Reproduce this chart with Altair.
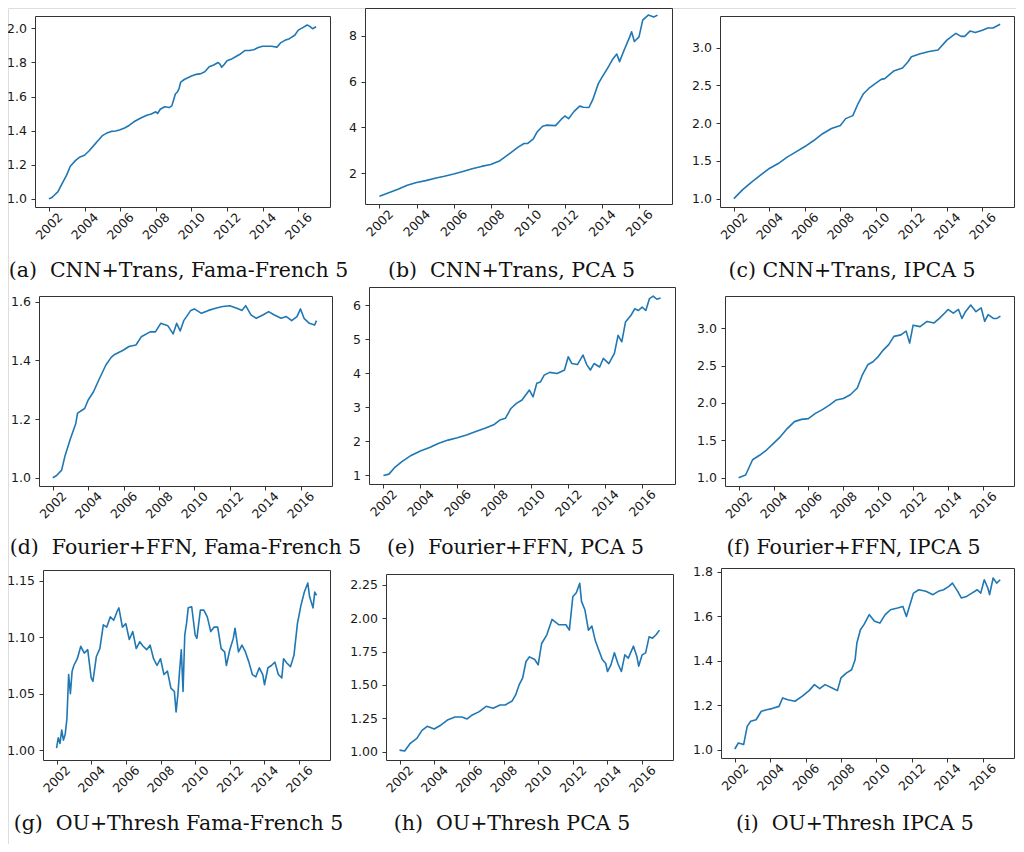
import altair as alt
import pandas as pd

# ---------------- data (decimal year, cumulative value) ----------------
a_pts = [(2002.00,1.000),(2002.15,1.005),(2002.30,1.020),(2002.50,1.040),(2002.75,1.090),(2003.00,1.140),
         (2003.20,1.190),(2003.50,1.225),(2003.75,1.245),(2004.00,1.255),(2004.25,1.280),(2004.50,1.310),
         (2004.75,1.340),(2005.00,1.370),(2005.25,1.385),(2005.50,1.395),(2005.75,1.397),(2006.00,1.405),
         (2006.25,1.415),(2006.50,1.430),(2006.75,1.450),(2007.00,1.465),(2007.25,1.478),(2007.50,1.490),
         (2007.75,1.497),(2008.00,1.510),(2008.10,1.500),(2008.25,1.525),(2008.50,1.540),(2008.75,1.535),
         (2008.90,1.545),(2009.00,1.580),(2009.10,1.615),(2009.20,1.625),(2009.30,1.645),(2009.40,1.685),
         (2009.60,1.700),(2010.00,1.720),(2010.25,1.730),(2010.50,1.733),(2010.75,1.745),(2011.00,1.775),
         (2011.25,1.785),(2011.50,1.800),(2011.60,1.790),(2011.70,1.772),(2011.85,1.790),(2012.00,1.810),
         (2012.25,1.820),(2012.50,1.835),(2012.75,1.850),(2013.00,1.870),(2013.25,1.870),(2013.50,1.875),
         (2013.75,1.888),(2014.00,1.895),(2014.25,1.895),(2014.50,1.895),(2014.80,1.890),(2015.00,1.915),
         (2015.25,1.930),(2015.50,1.940),(2015.80,1.960),(2016.00,1.990),(2016.25,2.005),(2016.50,2.020),
         (2016.65,2.012),(2016.80,1.998),(2017.00,2.010)]

b_pts = [(2002.0,1.00),(2002.5,1.15),(2003.0,1.30),(2003.5,1.48),(2004.0,1.60),(2004.5,1.68),(2005.0,1.78),
         (2005.5,1.87),(2006.0,1.97),(2006.5,2.08),(2007.0,2.20),(2007.5,2.30),(2008.0,2.38),(2008.5,2.55),
         (2009.0,2.85),(2009.5,3.15),(2009.8,3.30),(2010.0,3.30),(2010.3,3.50),(2010.5,3.80),(2010.8,4.05),
         (2011.0,4.10),(2011.5,4.08),(2011.8,4.35),(2012.0,4.50),(2012.2,4.38),(2012.5,4.70),(2012.8,4.93),
         (2013.0,4.88),(2013.3,4.87),(2013.5,5.20),(2013.8,5.90),(2014.0,6.18),(2014.3,6.58),(2014.6,7.00),
         (2014.8,7.20),(2014.95,6.87),(2015.2,7.38),(2015.5,7.95),(2015.6,8.17),(2015.75,7.75),(2016.0,7.95),
         (2016.2,8.68),(2016.5,8.90),(2016.8,8.82),(2017.0,8.90)]

c_pts = [(2002.0,1.00),(2002.5,1.12),(2003.0,1.22),(2003.5,1.31),(2004.0,1.40),(2004.5,1.465),(2005.0,1.55),
         (2005.5,1.62),(2006.0,1.69),(2006.5,1.77),(2007.0,1.86),(2007.5,1.93),(2008.0,1.97),(2008.3,2.06),
         (2008.7,2.10),(2009.0,2.26),(2009.3,2.39),(2009.6,2.46),(2010.0,2.53),(2010.3,2.58),(2010.5,2.59),
         (2011.0,2.69),(2011.5,2.73),(2011.8,2.81),(2012.0,2.88),(2012.5,2.92),(2013.0,2.95),(2013.5,2.97),
         (2014.0,3.10),(2014.5,3.19),(2014.8,3.15),(2015.0,3.15),(2015.3,3.22),(2015.6,3.20),(2016.0,3.23),
         (2016.3,3.26),(2016.6,3.26),(2017.0,3.31)]

d_pts = [(2002.0,1.000),(2002.2,1.007),(2002.5,1.026),(2002.7,1.077),(2003.0,1.134),(2003.3,1.185),
         (2003.4,1.220),(2003.8,1.236),(2004.0,1.265),(2004.3,1.293),(2004.6,1.333),(2005.0,1.384),
         (2005.3,1.410),(2005.5,1.420),(2006.0,1.435),(2006.3,1.447),(2006.7,1.452),(2007.0,1.480),
         (2007.5,1.497),(2007.8,1.497),(2008.1,1.526),(2008.5,1.518),(2008.8,1.490),(2009.0,1.526),
         (2009.2,1.500),(2009.4,1.535),(2009.8,1.570),(2010.0,1.575),(2010.4,1.560),(2010.8,1.570),
         (2011.2,1.577),(2011.6,1.583),(2012.0,1.586),(2012.4,1.577),(2012.7,1.570),(2012.9,1.586),
         (2013.2,1.555),(2013.5,1.543),(2013.9,1.555),(2014.2,1.566),(2014.5,1.555),(2014.9,1.543),
         (2015.2,1.549),(2015.5,1.535),(2015.8,1.549),(2016.0,1.575),(2016.2,1.543),(2016.5,1.526),
         (2016.8,1.520),(2016.9,1.535)]

e_pts = [(2002.0,1.00),(2002.3,1.04),(2002.6,1.23),(2003.0,1.41),(2003.5,1.59),(2004.0,1.72),(2004.5,1.82),
         (2005.0,1.95),(2005.5,2.04),(2006.0,2.11),(2006.5,2.19),(2007.0,2.29),(2007.5,2.39),(2008.0,2.50),
         (2008.3,2.63),(2008.6,2.68),(2008.9,2.97),(2009.2,3.12),(2009.5,3.22),(2009.9,3.51),(2010.1,3.31),
         (2010.3,3.71),(2010.5,3.75),(2010.7,3.95),(2011.0,4.03),(2011.4,4.00),(2011.8,4.10),(2012.0,4.49),
         (2012.2,4.29),(2012.5,4.26),(2012.8,4.54),(2013.0,4.26),(2013.2,4.10),(2013.4,4.29),(2013.7,4.19),
         (2013.9,4.44),(2014.2,4.29),(2014.5,4.59),(2014.7,5.12),(2014.9,4.93),(2015.1,5.51),(2015.4,5.71),
         (2015.6,5.90),(2015.8,5.85),(2016.0,5.95),(2016.2,5.85),(2016.4,6.20),(2016.6,6.27),(2016.8,6.18),
         (2017.0,6.22)]

f_pts = [(2002.0,1.00),(2002.4,1.036),(2002.8,1.24),(2003.2,1.30),(2003.6,1.37),(2004.0,1.46),(2004.4,1.55),
         (2004.8,1.66),(2005.2,1.75),(2005.6,1.78),(2006.0,1.79),(2006.4,1.86),(2006.8,1.91),(2007.2,1.97),
         (2007.6,2.04),(2008.0,2.06),(2008.4,2.11),(2008.8,2.20),(2009.1,2.38),(2009.4,2.51),(2009.7,2.55),
         (2010.0,2.62),(2010.3,2.71),(2010.6,2.78),(2010.9,2.89),(2011.3,2.91),(2011.6,2.96),(2011.8,2.80),
         (2012.0,3.04),(2012.4,3.02),(2012.8,3.09),(2013.2,3.07),(2013.5,3.13),(2013.8,3.20),(2014.0,3.25),
         (2014.3,3.20),(2014.6,3.25),(2014.8,3.13),(2015.0,3.22),(2015.3,3.31),(2015.6,3.22),(2015.9,3.27),
         (2016.1,3.09),(2016.3,3.18),(2016.6,3.13),(2016.8,3.13),(2017.0,3.16)]

g_pts = [(2002.0,1.002),(2002.1,1.011),(2002.2,1.006),(2002.3,1.018),(2002.4,1.009),(2002.5,1.014),
         (2002.6,1.028),(2002.7,1.067),(2002.8,1.050),(2002.9,1.070),(2003.0,1.075),(2003.2,1.081),
         (2003.4,1.092),(2003.6,1.086),(2003.8,1.089),(2004.0,1.064),(2004.1,1.061),(2004.3,1.083),
         (2004.5,1.090),(2004.7,1.111),(2004.9,1.109),(2005.1,1.118),(2005.3,1.115),(2005.5,1.123),
         (2005.6,1.126),(2005.8,1.109),(2006.0,1.112),(2006.2,1.098),(2006.4,1.105),(2006.6,1.090),
         (2006.8,1.096),(2007.0,1.092),(2007.2,1.089),(2007.4,1.093),(2007.6,1.081),(2007.8,1.075),
         (2008.0,1.081),(2008.2,1.067),(2008.4,1.070),(2008.6,1.055),(2008.8,1.052),(2008.9,1.034),
         (2009.0,1.049),(2009.1,1.070),(2009.2,1.089),(2009.3,1.052),(2009.4,1.102),(2009.5,1.112),
         (2009.6,1.126),(2009.8,1.127),(2010.0,1.102),(2010.1,1.099),(2010.3,1.124),(2010.5,1.124),
         (2010.7,1.118),(2010.9,1.105),(2011.1,1.109),(2011.3,1.109),(2011.5,1.090),(2011.7,1.087),
         (2011.8,1.075),(2012.0,1.089),(2012.2,1.099),(2012.3,1.108),(2012.5,1.087),(2012.7,1.093),
         (2012.9,1.087),(2013.1,1.078),(2013.3,1.067),(2013.5,1.065),(2013.7,1.073),(2013.9,1.067),
         (2014.0,1.058),(2014.2,1.073),(2014.4,1.075),(2014.6,1.078),(2014.8,1.067),(2015.0,1.064),
         (2015.1,1.081),(2015.3,1.077),(2015.5,1.074),(2015.7,1.084),(2015.9,1.112),(2016.1,1.128),
         (2016.3,1.140),(2016.5,1.148),(2016.6,1.136),(2016.8,1.126),(2016.9,1.140),(2017.0,1.137)]

h_pts = [(2002.0,1.012),(2002.3,1.005),(2002.6,1.060),(2003.0,1.100),(2003.3,1.160),(2003.6,1.190),
         (2004.0,1.170),(2004.4,1.200),(2004.8,1.240),(2005.2,1.260),(2005.6,1.260),(2005.9,1.245),
         (2006.2,1.275),(2006.6,1.300),(2007.0,1.340),(2007.4,1.325),(2007.8,1.350),(2008.1,1.350),
         (2008.5,1.380),(2008.7,1.425),(2008.9,1.500),(2009.1,1.550),(2009.3,1.675),(2009.5,1.710),
         (2009.8,1.690),(2010.0,1.650),(2010.2,1.810),(2010.5,1.875),(2010.8,1.990),(2011.2,1.950),
         (2011.6,1.950),(2011.8,1.910),(2012.0,2.160),(2012.2,2.190),(2012.4,2.260),(2012.5,2.125),
         (2012.7,2.060),(2012.9,1.910),(2013.1,1.940),(2013.3,1.830),(2013.5,1.760),(2013.7,1.690),
         (2013.9,1.660),(2014.0,1.600),(2014.2,1.650),(2014.4,1.740),(2014.6,1.660),(2014.8,1.600),
         (2015.0,1.725),(2015.2,1.700),(2015.5,1.790),(2015.7,1.710),(2015.8,1.640),(2016.0,1.725),
         (2016.2,1.740),(2016.4,1.860),(2016.6,1.850),(2016.8,1.875),(2017.0,1.910)]

i_pts = [(2002.0,1.003),(2002.2,1.030),(2002.5,1.023),(2002.7,1.105),(2002.9,1.128),(2003.2,1.135),
         (2003.5,1.173),(2003.8,1.180),(2004.1,1.185),(2004.5,1.195),(2004.7,1.233),(2005.0,1.225),
         (2005.4,1.218),(2005.8,1.240),(2006.2,1.266),(2006.5,1.293),(2006.8,1.275),(2007.1,1.293),
         (2007.5,1.278),(2007.8,1.266),(2008.0,1.323),(2008.3,1.345),(2008.6,1.360),(2008.8,1.405),
         (2008.9,1.480),(2009.1,1.540),(2009.3,1.563),(2009.6,1.608),(2009.9,1.578),(2010.2,1.570),
         (2010.5,1.608),(2010.8,1.630),(2011.2,1.638),(2011.5,1.645),(2011.7,1.600),(2011.9,1.653),
         (2012.1,1.705),(2012.4,1.720),(2012.8,1.713),(2013.2,1.698),(2013.5,1.713),(2013.8,1.720),
         (2014.1,1.735),(2014.3,1.750),(2014.6,1.713),(2014.8,1.683),(2015.1,1.690),(2015.4,1.705),
         (2015.7,1.720),(2015.9,1.705),(2016.1,1.765),(2016.3,1.728),(2016.4,1.698),(2016.6,1.773),
         (2016.8,1.750),(2017.0,1.765)]

captions = ["(a)\u00a0 CNN+Trans, Fama-French 5", "(b)\u00a0 CNN+Trans, PCA 5", "(c) CNN+Trans, IPCA 5",
            "(d)\u00a0 Fourier+FFN, Fama-French 5", "(e)\u00a0 Fourier+FFN, PCA 5", "(f) Fourier+FFN, IPCA 5",
            "(g)\u00a0 OU+Thresh Fama-French 5", "(h)\u00a0 OU+Thresh PCA 5", "(i)\u00a0 OU+Thresh IPCA 5"]

year_ticks = [2002, 2004, 2006, 2008, 2010, 2012, 2014, 2016]
y_ticks = [[1.0, 1.2, 1.4, 1.6, 1.8, 2.0], [2, 4, 6, 8], [1.0, 1.5, 2.0, 2.5, 3.0],
           [1.0, 1.2, 1.4, 1.6], [1, 2, 3, 4, 5, 6], [1.0, 1.5, 2.0, 2.5, 3.0],
           [1.00, 1.05, 1.10, 1.15], [1.00, 1.25, 1.50, 1.75, 2.00, 2.25], [1.0, 1.2, 1.4, 1.6, 1.8]]
y_formats = [".1f", "d", ".1f", ".1f", "d", ".1f", ".2f", ".2f", ".1f"]
series = [a_pts, b_pts, c_pts, d_pts, e_pts, f_pts, g_pts, h_pts, i_pts]

# ---------------- layout / style ----------------
W, H = 1008, 836
XDOM = [2001.22, 2017.78]
# plot boxes (x0, x1, y0, y1) in chart pixels
boxes = [(27, 322, 8, 199), (357, 664, 0, 196), (712, 1006, 8, 199),
         (31, 324, 288, 478), (361, 667, 279, 476), (717, 1006, 288, 478),
         (35, 322, 562, 752), (378, 665, 566, 752), (713, 1006, 560, 750)]
ydoms = [[0.951, 2.073], [0.66, 9.21], [0.889, 3.42],
         [0.972, 1.619], [0.75, 6.54], [0.889, 3.43],
         [0.9914, 1.1595], [0.938, 2.33], [0.9626, 1.818]]
cap_x = [170, 503, 843.5, 177, 507, 845, 170, 503.5, 846.5]
cap_base = [268, 268, 268, 545, 545, 545, 821, 821, 821]

BLUE = "#1f77b4"
SPINE = "#333333"
TXT = "#1a1a1a"
TICK_FS = 12.5

layers = []
for k in range(9):
    df = pd.DataFrame(series[k], columns=["t", "v"])
    x0, x1, y0, y1 = boxes[k]
    xs = alt.Scale(domain=XDOM, range=[x0, x1], nice=False, zero=False)
    ys = alt.Scale(domain=ydoms[k], range=[y1, y0], nice=False, zero=False)
    base = alt.Chart(df)
    line = base.mark_line(color=BLUE, strokeWidth=1.6, strokeJoin="round").encode(
        x=alt.X("t:Q", scale=xs, axis=alt.Axis(
            orient="bottom", offset=y1 - H, values=year_ticks, format="d",
            labelAngle=-45, labelAlign="center", labelBaseline="middle", labelPadding=15,
            labelFont="DejaVu Sans", labelFontSize=TICK_FS, labelColor=TXT, labelOverlap=False,
            labelFlush=False, tickSize=4, tickColor=SPINE, tickWidth=1,
            domainColor=SPINE, domainWidth=1, grid=False,
            title=captions[k], titleX=cap_x[k], titleY=cap_base[k] - y1,
            titleAlign="center", titleBaseline="alphabetic", titleFont="DejaVu Serif",
            titleFontSize=20.5, titleFontWeight="normal", titleColor="#111111")),
        y=alt.Y("v:Q", scale=ys, axis=alt.Axis(
            orient="left", offset=-x0, values=y_ticks[k], format=y_formats[k],
            labelFont="DejaVu Sans", labelFontSize=TICK_FS, labelColor=TXT, labelOverlap=False,
            labelFlush=False, labelPadding=4.5, tickSize=4, tickColor=SPINE, tickWidth=1,
            domainColor=SPINE, domainWidth=1, grid=False, title=None)),
    )
    frame = base.mark_line(opacity=0).encode(
        x=alt.X("t:Q", scale=xs, axis=alt.Axis(
            orient="top", offset=-y0, labels=False, ticks=False, grid=False, title=None,
            domainColor=SPINE, domainWidth=1)),
        y=alt.Y("v:Q", scale=ys, axis=alt.Axis(
            orient="right", offset=x1 - W, labels=False, ticks=False, grid=False, title=None,
            domainColor=SPINE, domainWidth=1)),
    )
    layers += [line, frame]

chart = alt.layer(*layers).resolve_scale(x="independent", y="independent").properties(
    width=W, height=H, autosize=alt.AutoSizeParams(type="none"), padding=0,
).configure_view(stroke=None).configure(background="white")

chart.save("out.html", embed_options={"renderer": "svg", "actions": False})
